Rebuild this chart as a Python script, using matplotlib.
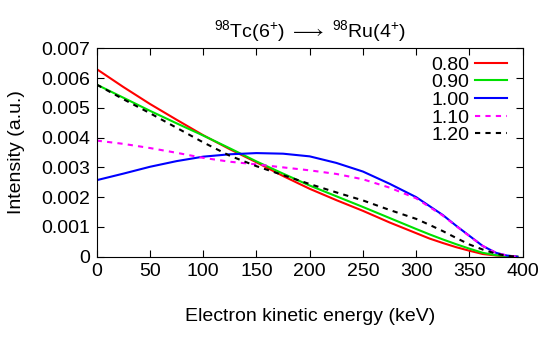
import matplotlib

matplotlib.use("Agg")

import matplotlib.pyplot as plt

# electron kinetic energy grid (keV)
energy_kev = [0, 25, 50, 75, 100, 125, 150, 175, 200, 225, 250, 275, 300, 312.5, 325,
              337.5, 350, 362.5, 375, 385, 395]

# intensity (a.u.) for each ratio
intensity_080 = [0.00630, 0.00570, 0.00513, 0.00460, 0.00408, 0.00361, 0.00317, 0.00271,
                 0.00228, 0.00190, 0.00154, 0.00115, 0.00079, 0.00061, 0.00046,
                 0.00032, 0.00020, 0.00009, 0.00004, 0.00001, 0.0]
intensity_090 = [0.00578, 0.00534, 0.00490, 0.00448, 0.00407, 0.00364, 0.00320, 0.00279,
                 0.00239, 0.00203, 0.00167, 0.00130, 0.00093, 0.00075, 0.00058,
                 0.00042, 0.00027, 0.00013, 0.00005, 0.00002, 0.0]
intensity_100 = [0.00257, 0.00279, 0.00302, 0.00321, 0.00336, 0.00344, 0.00348, 0.00346,
                 0.00337, 0.00315, 0.00286, 0.00245, 0.00200, 0.00170, 0.00140,
                 0.00104, 0.00070, 0.00036, 0.00013, 0.00004, 0.0]
intensity_110 = [0.00390, 0.00379, 0.00365, 0.00349, 0.00332, 0.00319, 0.00310, 0.00300,
                 0.00290, 0.00278, 0.00260, 0.00232, 0.00196, 0.00167, 0.00138,
                 0.00103, 0.00069, 0.00036, 0.00013, 0.00004, 0.0]
intensity_120 = [0.00578, 0.00529, 0.00482, 0.00433, 0.00384, 0.00339, 0.00304, 0.00274,
                 0.00244, 0.00216, 0.00189, 0.00157, 0.00127, 0.00107, 0.00086,
                 0.00063, 0.00041, 0.00024, 0.00010, 0.00003, 0.0]

labels = ["0.80", "0.90", "1.00", "1.10", "1.20"]
x_ticks = [0, 50, 100, 150, 200, 250, 300, 350, 400]
y_ticks = [0, 0.001, 0.002, 0.003, 0.004, 0.005, 0.006, 0.007]
y_tick_labels = ["0", "0.001", "0.002", "0.003", "0.004", "0.005", "0.006", "0.007"]

plt.rcParams["font.family"] = ["Liberation Sans", "DejaVu Sans"]
plt.rcParams["mathtext.fontset"] = "custom"
plt.rcParams["mathtext.rm"] = "Liberation Sans"
plt.rcParams["mathtext.it"] = "Liberation Sans:italic"

fig = plt.figure(figsize=(5.44, 3.37), dpi=100)
ax = fig.add_axes([0.1778, 0.2383, 0.783, 0.6184])

series = [intensity_080, intensity_090, intensity_100, intensity_110, intensity_120]
colors = ["#ff0000", "#00e000", "#0000ff", "#ff00ff", "#000000"]
styles = ["-", "-", "-", (0, (2.5, 2.5)), (0, (2.5, 2.5))]

for values, label, color, style in zip(series, labels, colors, styles):
    ax.plot(energy_kev, values, color=color, linestyle=style, linewidth=1.5, label=label)

ax.set_xlim(0, 400)
ax.set_ylim(0, 0.007)
ax.set_xticks(x_ticks)
ax.set_yticks(y_ticks)
ax.set_yticklabels(y_tick_labels)
ax.tick_params(direction="in", length=4.8, width=0.8, top=True, right=True,
               labelsize=14, pad=4.5)
for spine in ax.spines.values():
    spine.set_linewidth(0.8)

ax.set_xlabel("Electron kinetic energy (keV)", fontsize=14, labelpad=20)
ax.set_ylabel("Intensity (a.u.)", fontsize=14, labelpad=12)
ax.set_title(r"$^{98}$Tc(6$^{+}$) $\longrightarrow$ $^{98}$Ru(4$^{+}$)", fontsize=14, pad=8)

ax.legend(loc="upper right", bbox_to_anchor=(0.982, 1.0), frameon=False,
          markerfirst=False, fontsize=14, handlelength=1.65, handletextpad=0.3,
          labelspacing=0.0, borderaxespad=0.4, borderpad=0.0)

fig.savefig("out.png", dpi=100)
plt.close(fig)
